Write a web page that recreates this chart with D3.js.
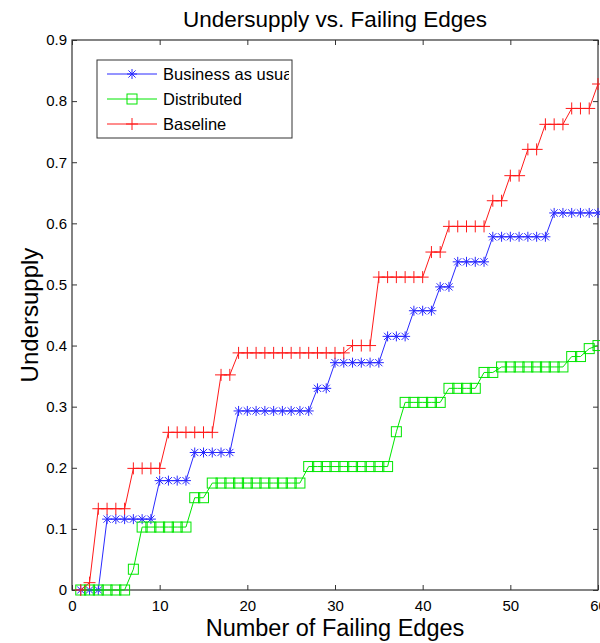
<!DOCTYPE html>
<html>
<head>
<meta charset="utf-8">
<script src="https://cdn.jsdelivr.net/npm/d3@7"></script>
<style>
  html, body { margin: 0; padding: 0; background: #fff; }
  svg { display: block; font-family: "Liberation Sans", Arial, Helvetica, sans-serif; }
</style>
</head>
<body>
<svg id="chart" width="600" height="643"></svg>
<script>
// ---- data ----
const failingEdges = [1,2,3,4,5,6,7,8,9,10,11,12,13,14,15,16,17,18,19,20,
  21,22,23,24,25,26,27,28,29,30,31,32,33,34,35,36,37,38,39,40,
  41,42,43,44,45,46,47,48,49,50,51,52,53,54,55,56,57,58,59,60];

const businessAsUsual = [0,0,0,0.116,0.116,0.116,0.116,0.116,0.116,0.179,
  0.179,0.179,0.179,0.225,0.225,0.225,0.225,0.225,0.293,0.293,
  0.293,0.293,0.293,0.293,0.293,0.293,0.293,0.330,0.330,0.372,
  0.372,0.372,0.372,0.372,0.372,0.415,0.415,0.415,0.457,0.457,
  0.457,0.496,0.496,0.537,0.537,0.537,0.537,0.578,0.578,0.578,
  0.578,0.578,0.578,0.578,0.617,0.617,0.617,0.617,0.617,0.617];

const distributed = [0,0,0,0,0,0,0.034,0.103,0.103,0.103,
  0.103,0.103,0.103,0.151,0.151,0.175,0.175,0.175,0.175,0.175,
  0.175,0.175,0.175,0.175,0.175,0.175,0.202,0.202,0.202,0.202,
  0.202,0.202,0.202,0.202,0.202,0.202,0.259,0.307,0.307,0.307,
  0.307,0.307,0.330,0.330,0.330,0.330,0.356,0.356,0.365,0.365,
  0.365,0.365,0.365,0.365,0.365,0.365,0.382,0.382,0.395,0.400];

const baseline = [0,0.012,0.133,0.133,0.133,0.133,0.199,0.199,0.199,0.199,
  0.258,0.258,0.258,0.258,0.258,0.258,0.352,0.352,0.388,0.388,
  0.388,0.388,0.388,0.388,0.388,0.388,0.388,0.388,0.388,0.388,
  0.388,0.400,0.400,0.400,0.512,0.512,0.512,0.512,0.512,0.512,
  0.553,0.553,0.595,0.595,0.595,0.595,0.595,0.637,0.637,0.678,
  0.678,0.721,0.721,0.762,0.762,0.762,0.788,0.788,0.788,0.828];

const seriesNames = ["Business as usual", "Distributed", "Baseline"];
const xTicks = [0,10,20,30,40,50,60];
const yTicks = [0,0.1,0.2,0.3,0.4,0.5,0.6,0.7,0.8,0.9];
const titleText = "Undersupply vs. Failing Edges";
const xLabel = "Number of Failing Edges";
const yLabel = "Undersupply";

(function () {
// ---- layout ----
const pL = 72, pR = 598, pT = 40, pB = 590;
const svg = d3.select("#chart");
const x = d3.scaleLinear().domain([0, 60]).range([pL, pR]);
const y = d3.scaleLinear().domain([0, 0.9]).range([pB, pT]);

const colors = ["#2a2aff", "#00e600", "#ff1a1a"];
const markers = ["star", "square", "plus"];
const seriesData = [businessAsUsual, distributed, baseline];

const axisColor = "#333";
const tickLen = 5;
function styleAxis(g) {
  g.selectAll(".domain").remove();
  g.selectAll(".tick line").attr("stroke", axisColor);
  g.selectAll(".tick text").attr("fill", "#000").style("font-size", "15px");
}
svg.append("g").attr("transform", `translate(0,${pB})`)
  .call(d3.axisBottom(x).tickValues(xTicks).tickSizeInner(-tickLen).tickSizeOuter(0).tickPadding(10).tickFormat(d3.format("d")))
  .call(styleAxis);
svg.append("g").attr("transform", `translate(0,${pT})`)
  .call(d3.axisTop(x).tickValues(xTicks).tickSizeInner(-tickLen).tickSizeOuter(0).tickFormat(""))
  .call(styleAxis);
svg.append("g").attr("transform", `translate(${pL},0)`)
  .call(d3.axisLeft(y).tickValues(yTicks).tickSizeInner(-tickLen).tickSizeOuter(0).tickPadding(5).tickFormat(d => d === 0 ? "0" : d3.format(".1f")(d)))
  .call(styleAxis);
svg.append("g").attr("transform", `translate(${pR},0)`)
  .call(d3.axisRight(y).tickValues(yTicks).tickSizeInner(-tickLen).tickSizeOuter(0).tickFormat(""))
  .call(styleAxis);
svg.append("rect").attr("x", pL).attr("y", pT).attr("width", pR - pL).attr("height", pB - pT)
  .attr("fill", "none").attr("stroke", axisColor).attr("stroke-width", 1.2);

function drawMarker(g, type, cx, cy, color, s) {
  const r = s / 2;
  if (type === "star") {
    const d = r * 0.72;
    const path = `M${cx - r},${cy}L${cx + r},${cy}M${cx},${cy - r}L${cx},${cy + r}` +
      `M${cx - d},${cy - d}L${cx + d},${cy + d}M${cx - d},${cy + d}L${cx + d},${cy - d}`;
    g.append("path").attr("d", path).attr("stroke", color).attr("stroke-width", 1).attr("fill", "none");
  } else if (type === "square") {
    g.append("rect").attr("x", cx - r).attr("y", cy - r).attr("width", s).attr("height", s)
      .attr("fill", "none").attr("stroke", color).attr("stroke-width", 1);
  } else {
    g.append("path").attr("d", `M${cx - r},${cy}L${cx + r},${cy}M${cx},${cy - r}L${cx},${cy + r}`)
      .attr("stroke", color).attr("stroke-width", 1).attr("fill", "none");
  }
}
const markerSize = [10, 10, 12];

const line = d3.line().x((d, i) => x(failingEdges[i])).y(d => y(d));
seriesData.forEach((vals, k) => {
  const g = svg.append("g");
  g.append("path").datum(vals).attr("d", line).attr("fill", "none")
    .attr("stroke", colors[k]).attr("stroke-width", 1);
  vals.forEach((v, i) => drawMarker(g, markers[k], x(failingEdges[i]), y(v), colors[k], markerSize[k]));
});

// legend
const lgX = 97, lgY = 60, lgW = 195, lgH = 78;
svg.append("clipPath").attr("id", "lgclip").append("rect")
  .attr("x", lgX).attr("y", lgY).attr("width", lgW - 3).attr("height", lgH);
svg.append("rect").attr("x", lgX).attr("y", lgY).attr("width", lgW).attr("height", lgH)
  .attr("fill", "#fff").attr("stroke", axisColor).attr("stroke-width", 1);
const lg = svg.append("g").attr("clip-path", "url(#lgclip)");
seriesNames.forEach((name, k) => {
  const ry = lgY + 14 + k * 25;
  lg.append("line").attr("x1", lgX + 10).attr("x2", lgX + 60).attr("y1", ry).attr("y2", ry)
    .attr("stroke", colors[k]).attr("stroke-width", 1);
  drawMarker(lg, markers[k], lgX + 35, ry, colors[k], markerSize[k]);
  lg.append("text").attr("x", lgX + 66).attr("y", ry + 6).text(name)
    .style("font-size", "16.5px").attr("fill", "#000");
});

// title and labels
svg.append("text").attr("x", (pL + pR) / 2).attr("y", 27).attr("text-anchor", "middle")
  .style("font-size", "22.5px").text(titleText);
svg.append("text").attr("x", (pL + pR) / 2).attr("y", 636).attr("text-anchor", "middle")
  .style("font-size", "23.5px").text(xLabel);
svg.append("text").attr("transform", `translate(38,${(pT + pB) / 2}) rotate(-90)`)
  .attr("text-anchor", "middle").style("font-size", "24px").text(yLabel);
})();
</script>
</body>
</html>
